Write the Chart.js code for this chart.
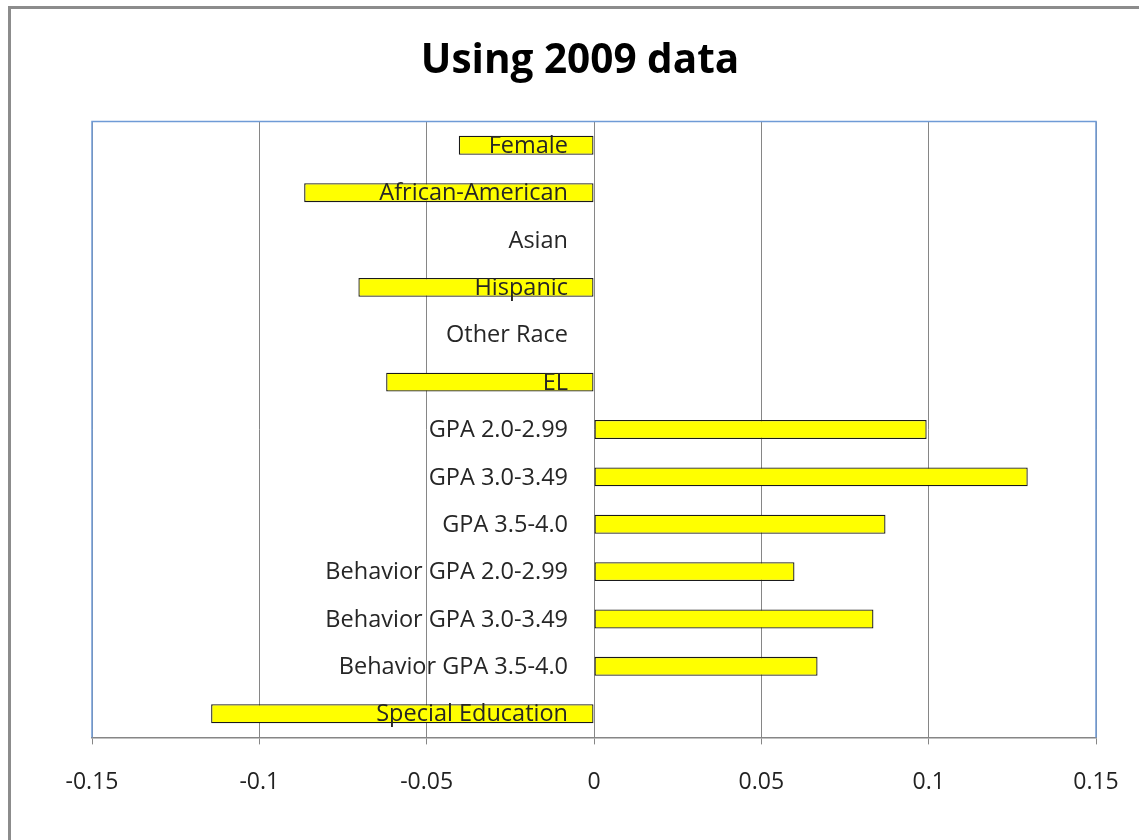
<!DOCTYPE html>
<html>
<head>
<meta charset="utf-8">
<script src="https://cdn.jsdelivr.net/npm/chart.js@4.4.1/dist/chart.umd.min.js"></script>
<style>
  html, body { margin: 0; padding: 0; background: #fff; overflow: hidden; }
  #frame {
    position: absolute; left: 8px; top: 6px;
    width: 1138px; height: 831px;
    border-left: 3px solid #8c8c8c; border-top: 3px solid #8c8c8c;
  }
  #chart { display: block; }
</style>
</head>
<body>
<div id="frame"><canvas id="chart" width="1138" height="831"></canvas></div>
<script>
// categories, top to bottom
const categories = [
  'Female', 'African-American', 'Asian', 'Hispanic', 'Other Race', 'EL',
  'GPA 2.0-2.99', 'GPA 3.0-3.49', 'GPA 3.5-4.0',
  'Behavior GPA 2.0-2.99', 'Behavior GPA 3.0-3.49', 'Behavior GPA 3.5-4.0',
  'Special Education'
];
// estimated coefficients
const values = [
  -0.0404, -0.0866, 0, -0.0704, 0, -0.0621,
  0.0994, 0.1296, 0.0871,
  0.0599, 0.0835, 0.0668,
  -0.1144
];
const xTicks = [-0.15, -0.1, -0.05, 0, 0.05, 0.1, 0.15];
const xTickLabels = ['-0.15', '-0.1', '-0.05', '0', '0.05', '0.1', '0.15'];

const labelFont = "'Open Sans', sans-serif";

// blue frame around the plot area (top, left, right)
const plotFrame = {
  id: 'plotFrame',
  afterDatasetsDraw(chart) {
    const { ctx, chartArea: a } = chart;
    ctx.save();
    ctx.strokeStyle = '#6f9bd6';
    ctx.lineWidth = 1.5;
    ctx.beginPath();
    ctx.moveTo(a.left, a.bottom);
    ctx.lineTo(a.left, a.top);
    ctx.lineTo(a.right, a.top);
    ctx.lineTo(a.right, a.bottom);
    ctx.stroke();
    ctx.restore();
  }
};

// category names sit at the zero line, drawn over the bars (Excel "low" labels)
const zeroLabels = {
  id: 'zeroLabels',
  afterDatasetsDraw(chart) {
    const { ctx, scales: { x, y } } = chart;
    const x0 = x.getPixelForValue(0);
    ctx.save();
    ctx.fillStyle = '#262626';
    ctx.font = "23.5px " + labelFont;
    ctx.textAlign = 'right';
    ctx.textBaseline = 'middle';
    categories.forEach((c, i) => {
      ctx.fillText(c, x0 - 26, y.getPixelForValue(i) + 1);
    });
    ctx.restore();
  }
};

new Chart(document.getElementById('chart'), {
  type: 'bar',
  data: {
    labels: categories,
    datasets: [{
      data: values,
      backgroundColor: '#ffff00',
      borderColor: '#1a1a1a',
      borderWidth: 1.3,
      borderSkipped: false,
      categoryPercentage: 1,
      barPercentage: 0.4
    }]
  },
  options: {
    indexAxis: 'y',
    responsive: false,
    animation: false,
    layout: { padding: { left: 53, right: 53, top: 0, bottom: 20 } },
    plugins: {
      legend: { display: false },
      tooltip: { enabled: false },
      title: {
        display: true,
        text: 'Using 2009 data',
        color: '#000',
        font: { family: labelFont, size: 40.5, weight: 'bold' },
        padding: { top: 28, bottom: 36 }
      }
    },
    scales: {
      x: {
        min: -0.15,
        max: 0.15,
        afterBuildTicks(scale) {
          scale.ticks = xTicks.map(v => ({ value: v }));
        },
        grid: { color: '#868686', lineWidth: 1, tickLength: 7, drawTicks: true },
        border: { color: '#868686', width: 1.5 },
        ticks: {
          color: '#222',
          padding: 24,
          font: { family: labelFont, size: 23 },
          callback: (v, i) => xTickLabels[i]
        }
      },
      y: {
        grid: { display: false },
        border: { display: false },
        ticks: { display: false },
        afterFit(scale) { scale.width = 28; }
      }
    }
  },
  plugins: [plotFrame, zeroLabels]
});
</script>
</body>
</html>
